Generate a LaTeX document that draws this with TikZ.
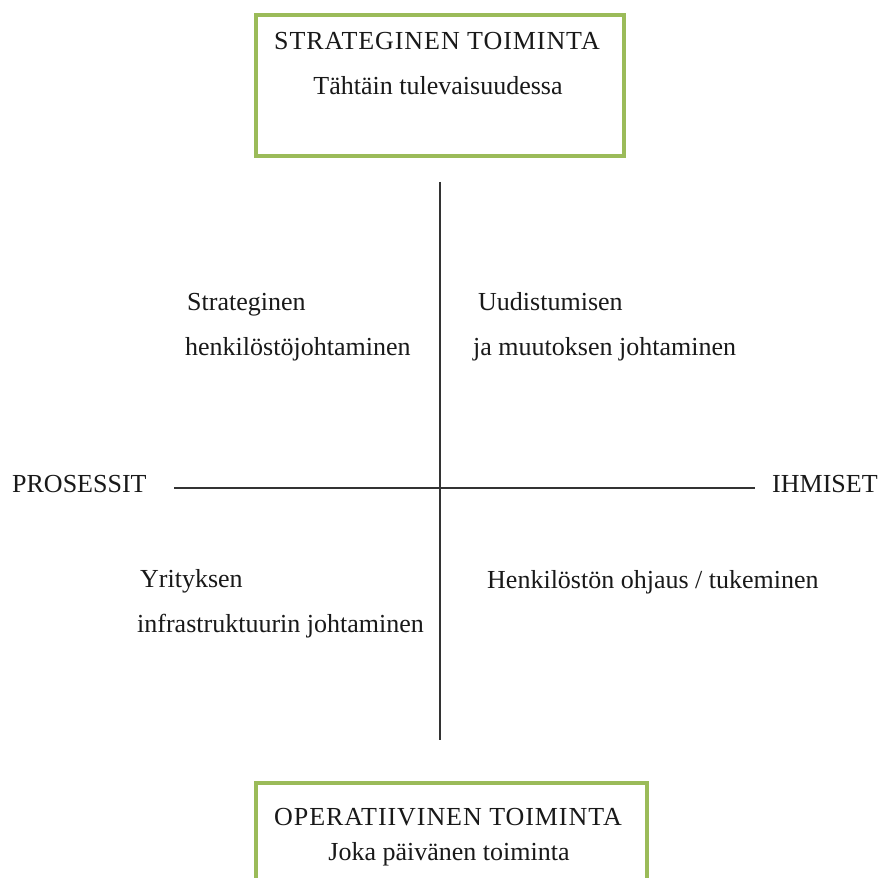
\documentclass[tikz,border=0pt]{standalone}
\usepackage{fontspec}
\setmainfont{Liberation Serif}
\newfontfamily\spacedcaps[LetterSpace=3.6]{Liberation Serif}
\begin{document}
\begin{tikzpicture}[x=1pt,y=-1pt,
  lbl/.style={inner sep=0pt,font=\fontsize{26}{30}\selectfont,text=black!90},
  title/.style={lbl,font=\spacedcaps\fontsize{26}{30}\selectfont},
  greenbox/.style={draw=boxgreen,line width=4pt,inner sep=0pt,anchor=north west},
  axis/.style={draw=black!80,line width=1.5pt}]
\definecolor{boxgreen}{HTML}{9BBB59}
\useasboundingbox (0,0) rectangle (882,877);
\clip (0,0) rectangle (882,877);
\fill[white] (0,0) rectangle (882,877);

% framed boxes at top and bottom
\node[greenbox,minimum width=368pt,minimum height=141pt] (strat) at (254,13) {};
\node[greenbox,minimum width=391pt,minimum height=141pt] (oper) at (254,781) {};

\node[title,anchor=base] (stratA) at (437,50) {STRATEGINEN TOIMINTA};
\node[lbl,anchor=base] (stratB) at (438,95) {Tähtäin tulevaisuudessa};
\node[title,anchor=base] (operA) at (448,825) {OPERATIIVINEN TOIMINTA};
\node[lbl,anchor=base] (operB) at (449,860) {Joka päivänen toiminta};

% axis end labels
\node[lbl,anchor=base west] (pros) at (12,492) {PROSESSIT};
\node[lbl,anchor=base west] (ihm) at (772,492) {IHMISET};

% axes
\coordinate (vtop) at (440,182);
\coordinate (vbot) at (440,740);
\coordinate (hleft) at (174,488);
\coordinate (hright) at (755,488);
\draw[axis] (vtop) -- (vbot);
\draw[axis] (hleft) -- (hright);

% quadrant texts
\node[lbl,anchor=base west] (q1a) at (187,310) {Strateginen};
\node[lbl,anchor=base west] (q1b) at (185,355) {henkilöstöjohtaminen};
\node[lbl,anchor=base west] (q2a) at (478,310) {Uudistumisen};
\node[lbl,anchor=base west] (q2b) at (473,355) {ja muutoksen johtaminen};
\node[lbl,anchor=base west] (q3a) at (140,587) {Yrityksen};
\node[lbl,anchor=base west] (q3b) at (137,632) {infrastruktuurin johtaminen};
\node[lbl,anchor=base west] (q4a) at (487,588) {Henkilöstön ohjaus / tukeminen};
\end{tikzpicture}
\end{document}
